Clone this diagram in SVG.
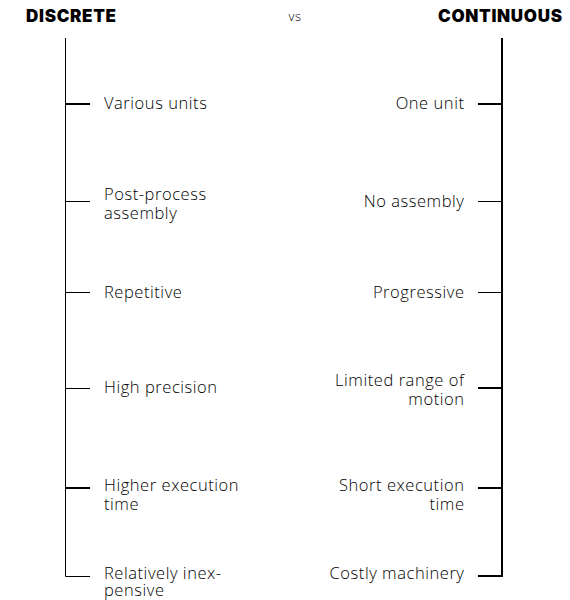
<svg xmlns="http://www.w3.org/2000/svg" width="570" height="600" viewBox="0 0 570 600">
<style>
.t{font-family:"Open Sans","Noto Sans",sans-serif;font-size:16.5px;font-weight:300;fill:#000;letter-spacing:0.55px;}
.r{text-anchor:end;}
.h{font-family:"Inter","Noto Sans",sans-serif;font-size:17px;font-weight:900;fill:#000;letter-spacing:0.7px;}
.vs{font-family:"Open Sans",sans-serif;font-size:13px;font-weight:300;fill:#000;text-anchor:middle;letter-spacing:0.5px;}
.thin{stroke:#000;stroke-width:1;fill:none;}
.thick{stroke:#000;stroke-width:2;fill:none;}
</style>
<rect width="570" height="600" fill="#fff"/>
<g id="header">
<text class="h" x="26" y="22">DISCRETE</text>
<text class="vs" x="295" y="21">vs</text>
<text class="h" x="562.7" y="22" text-anchor="end">CONTINUOUS</text>
</g>
<g id="connectors">
<path class="thin" d="M65.5 38V576.5H90"/>
<path class="thick" d="M65 104H90"/>
<path class="thin" d="M65 201.5H90"/>
<path class="thin" d="M65 292.5H90"/>
<path class="thin" d="M65 388.5H90"/>
<path class="thick" d="M65 488H90"/>
<path class="thick" d="M502 38V576H478"/>
<path class="thick" d="M478 104H502"/>
<path class="thin" d="M478 201.5H502"/>
<path class="thin" d="M478 292.5H502"/>
<path class="thick" d="M478 388H502"/>
<path class="thick" d="M478 488H502"/>
</g>
<g id="d1"><text class="t" x="104" y="109">Various units</text></g>
<g id="d2"><text class="t" x="104" y="200">Post-process</text><text class="t" x="104" y="219">assembly</text></g>
<g id="d3"><text class="t" x="104" y="298">Repetitive</text></g>
<g id="d4"><text class="t" x="104" y="393">High precision</text></g>
<g id="d5"><text class="t" x="104" y="491">Higher execution</text><text class="t" x="104" y="510">time</text></g>
<g id="d6"><text class="t" x="104" y="579">Relatively inex-</text><text class="t" x="104" y="596">pensive</text></g>
<g id="c1"><text class="t r" x="464.5" y="109">One unit</text></g>
<g id="c2"><text class="t r" x="464.5" y="207">No assembly</text></g>
<g id="c3"><text class="t r" x="464.5" y="298">Progressive</text></g>
<g id="c4"><text class="t r" x="464.5" y="386">Limited range of</text><text class="t r" x="464.5" y="405">motion</text></g>
<g id="c5"><text class="t r" x="464.5" y="491">Short execution</text><text class="t r" x="464.5" y="510">time</text></g>
<g id="c6"><text class="t r" x="464.5" y="579">Costly machinery</text></g>
</svg>
